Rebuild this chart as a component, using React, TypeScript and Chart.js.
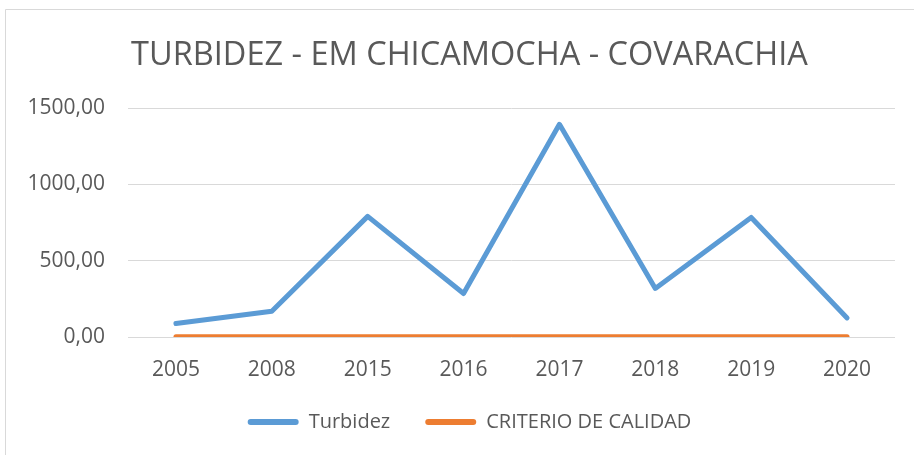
import React, { useEffect, useRef } from "react";
import { Chart, registerables } from "chart.js";

Chart.register(...registerables);

const titleText = "TURBIDEZ - EM CHICAMOCHA - COVARACHIA";
const categories = ["2005", "2008", "2015", "2016", "2017", "2018", "2019", "2020"];
const turbidez = [88, 169, 790, 285, 1393, 318, 783, 125];
const criterio = [2, 2, 2, 2, 2, 2, 2, 2];
const yTicks = [0, 500, 1000, 1500];
const seriesNames = ["Turbidez", "CRITERIO DE CALIDAD"];
const seriesColors = ["#5B9BD5", "#ED7D31"];

const TEXT = "#595959";
const FONT = "'Open Sans', 'Noto Sans', sans-serif";

const framePlugin = {
  id: "frame",
  beforeDraw(chart: any) {
    const { ctx, width, height } = chart;
    ctx.save();
    ctx.fillStyle = "#ffffff";
    ctx.fillRect(0, 0, width, height);
    ctx.strokeStyle = "#D9D9D9";
    ctx.lineWidth = 1;
    ctx.beginPath();
    ctx.moveTo(5.5, height);
    ctx.lineTo(5.5, 9.5);
    ctx.lineTo(width, 9.5);
    ctx.stroke();
    ctx.restore();
  },
};

// Excel centres title and legend on the chart's plot block, slightly right of the canvas centre
const shiftPlugin = {
  id: "shiftBlocks",
  afterLayout(chart: any) {
    const shift = 44;
    [chart.titleBlock, chart.legend].forEach((b: any) => {
      if (b) {
        b.left = shift;
        b.width = b.right - shift;
      }
    });
  },
};

export default function App() {
  const ref = useRef<HTMLCanvasElement | null>(null);

  useEffect(() => {
    if (!ref.current) return;
    const chart = new Chart(ref.current, {
      type: "line",
      data: {
        labels: categories,
        datasets: [
          {
            label: seriesNames[0],
            data: turbidez,
            borderColor: seriesColors[0],
            backgroundColor: seriesColors[0],
            borderWidth: 5,
            borderCapStyle: "round",
            borderJoinStyle: "round",
            pointRadius: 0,
            tension: 0,
          },
          {
            label: seriesNames[1],
            data: criterio,
            borderColor: seriesColors[1],
            backgroundColor: seriesColors[1],
            borderWidth: 5,
            borderCapStyle: "round",
            borderJoinStyle: "round",
            pointRadius: 0,
            tension: 0,
          },
        ],
      },
      options: {
        responsive: false,
        animation: false,
        layout: { padding: { left: 0, right: 19, top: 0, bottom: 13 } },
        plugins: {
          title: {
            display: true,
            text: titleText,
            color: TEXT,
            font: { family: FONT, size: 32.5, weight: "normal" },
            padding: { top: 36, bottom: 33 },
          },
          legend: {
            position: "bottom",
            labels: {
              color: TEXT,
              font: { family: FONT, size: 20 },
              boxWidth: 51,
              boxHeight: 6,
              padding: 35,
              useBorderRadius: true,
              borderRadius: 3,
              generateLabels: (c: any) =>
                c.data.datasets.map((d: any, i: number) => ({
                  text: d.label,
                  fillStyle: d.borderColor,
                  strokeStyle: d.borderColor,
                  lineWidth: 0,
                  borderRadius: 3,
                  fontColor: TEXT,
                  datasetIndex: i,
                  hidden: false,
                })),
            },
          },
          tooltip: { enabled: false },
        },
        scales: {
          x: {
            offset: true,
            grid: { display: false, drawTicks: false },
            border: { display: false },
            ticks: {
              color: TEXT,
              font: { family: FONT, size: 21 },
              padding: 20,
              maxRotation: 0,
            },
            afterFit: (s: any) => {
              s.height = 40;
            },
          },
          y: {
            min: 0,
            max: 1500,
            grid: { color: "#D9D9D9", lineWidth: 1, drawTicks: false },
            border: { display: false },
            afterBuildTicks: (s: any) => {
              s.ticks = yTicks.map((v) => ({ value: v }));
            },
            ticks: {
              color: TEXT,
              font: { family: FONT, size: 21 },
              padding: 23,
              callback: (v: any) => Number(v).toFixed(2).replace(".", ","),
            },
            afterFit: (s: any) => {
              s.width = 128;
            },
          },
        },
      },
      plugins: [framePlugin, shiftPlugin],
    });
    return () => chart.destroy();
  }, []);

  return (
    <div style={{ position: "fixed", left: 0, top: 0, width: 914, height: 455 }}>
      <canvas ref={ref} width={914} height={455} style={{ display: "block" }} />
    </div>
  );
}
